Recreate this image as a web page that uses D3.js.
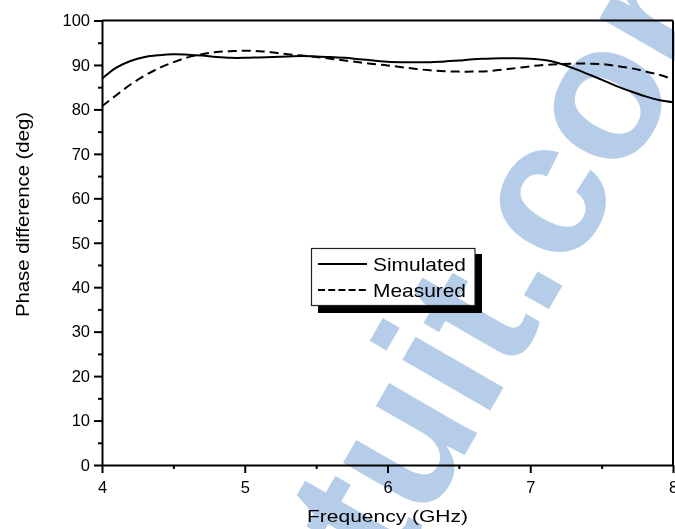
<!DOCTYPE html>
<html>
<head>
<meta charset="utf-8">
<script src="https://cdn.jsdelivr.net/npm/d3@7"></script>
<style>
  html, body { margin: 0; padding: 0; background: #fff; }
  svg { display: block; }
  text { font-family: "Liberation Sans", Arial, Helvetica, sans-serif; fill: #000; }
</style>
</head>
<body>
<svg id="chart" width="675" height="529"></svg>
<script>
// Phase difference between the two output ports versus frequency
const frequency = [4.0, 4.1, 4.2, 4.3, 4.4, 4.5, 4.6, 4.7, 4.8, 4.9,
                   5.0, 5.1, 5.2, 5.3, 5.4, 5.5, 5.6, 5.7, 5.8, 5.9,
                   6.0, 6.1, 6.2, 6.3, 6.4, 6.5, 6.6, 6.7, 6.8, 6.9,
                   7.0, 7.1, 7.2, 7.3, 7.4, 7.5, 7.6, 7.7, 7.8, 7.9, 8.0];
const simulated = [86.9, 89.4, 90.9, 91.8, 92.2, 92.4, 92.3, 92.1, 91.8, 91.6,
                   91.6, 91.7, 91.8, 91.9, 92.0, 91.9, 91.8, 91.6, 91.3, 91.0,
                   90.7, 90.6, 90.6, 90.6, 90.8, 91.0, 91.3, 91.4, 91.5, 91.5,
                   91.4, 91.1, 90.4, 89.3, 88.0, 86.7, 85.3, 84.1, 83.0, 82.1, 81.6];
const measured  = [80.7, 83.2, 85.6, 87.6, 89.3, 90.6, 91.7, 92.4, 92.9, 93.1,
                   93.2, 93.1, 92.8, 92.4, 92.1, 91.8, 91.4, 91.0, 90.6, 90.2,
                   89.9, 89.5, 89.1, 88.8, 88.6, 88.5, 88.5, 88.6, 88.9, 89.3,
                   89.7, 90.0, 90.2, 90.3, 90.3, 90.2, 89.8, 89.3, 88.6, 87.8, 86.8];

const seriesNames = ["Simulated", "Measured"];
const xTicks = [4, 5, 6, 7, 8];
const xMinorTicks = [4.5, 5.5, 6.5, 7.5];
const yTicks = [0, 10, 20, 30, 40, 50, 60, 70, 80, 90, 100];
const yMinorTicks = [5, 15, 25, 35, 45, 55, 65, 75, 85, 95];
const xTitle = "Frequency (GHz)";
const yTitle = "Phase difference (deg)";
const watermark = "tuit.com";

const svg = d3.select("#chart");
const plotLeft = 102, plotRight = 673, plotTop = 20.5, plotBottom = 465;

const x = d3.scaleLinear().domain([4, 8]).range([plotLeft, plotRight]);
const y = d3.scaleLinear().domain([0, 100]).range([plotBottom, plotTop]);

const series = [
  { name: seriesNames[0], values: simulated, dash: null },
  { name: seriesNames[1], values: measured, dash: "9,5" }
];

// data curves
const line = d3.line()
  .x((d, i) => x(frequency[i]))
  .y(d => y(d))
  .curve(d3.curveCatmullRom.alpha(0.5));

svg.append("g").selectAll("path")
  .data(series)
  .join("path")
  .attr("d", d => line(d.values))
  .attr("fill", "none")
  .attr("stroke", "#000")
  .attr("stroke-width", 2)
  .attr("stroke-dasharray", d => d.dash);

// frame: top and right edges
svg.append("line").attr("x1", plotLeft).attr("x2", plotRight).attr("y1", plotTop).attr("y2", plotTop)
  .attr("stroke", "#000").attr("stroke-width", 2);
svg.append("line").attr("x1", plotRight).attr("x2", plotRight).attr("y1", plotTop).attr("y2", plotBottom)
  .attr("stroke", "#000").attr("stroke-width", 2);

// bottom axis
svg.append("g").attr("transform", `translate(0,${plotBottom})`)
  .call(d3.axisBottom(x).tickValues(xTicks).tickFormat(d3.format("d"))
        .tickSize(8).tickPadding(8).tickSizeOuter(0));
svg.append("g").attr("transform", `translate(0,${plotBottom})`)
  .call(d3.axisBottom(x).tickValues(xMinorTicks).tickFormat("").tickSize(4).tickSizeOuter(0))
  .call(g => g.select(".domain").remove());

// left axis
svg.append("g").attr("transform", `translate(${plotLeft},0)`)
  .call(d3.axisLeft(y).tickValues(yTicks).tickFormat(d3.format("d"))
        .tickSize(8).tickPadding(4).tickSizeOuter(0));
svg.append("g").attr("transform", `translate(${plotLeft},0)`)
  .call(d3.axisLeft(y).tickValues(yMinorTicks).tickFormat("").tickSize(4).tickSizeOuter(0))
  .call(g => g.select(".domain").remove());

svg.selectAll(".domain").attr("stroke", "#000").attr("stroke-width", 2);
svg.selectAll(".tick line").attr("stroke", "#000").attr("stroke-width", 2);
svg.selectAll(".tick text")
  .attr("font-family", "'Liberation Sans', Arial, sans-serif")
  .attr("font-size", 16.5).attr("fill", "#000");

// axis titles
svg.append("text")
  .attr("x", (plotLeft + plotRight) / 2).attr("y", 522)
  .attr("text-anchor", "middle")
  .attr("font-size", 16.5)
  .attr("textLength", 161).attr("lengthAdjust", "spacingAndGlyphs")
  .text(xTitle);

svg.append("text")
  .attr("transform", "translate(29,214.5) rotate(-90)")
  .attr("text-anchor", "middle")
  .attr("font-size", 19)
  .attr("textLength", 205).attr("lengthAdjust", "spacingAndGlyphs")
  .text(yTitle);

// legend with drop shadow
const legend = svg.append("g");
legend.append("rect").attr("x", 318).attr("y", 254).attr("width", 164).attr("height", 59).attr("fill", "#000");
legend.append("rect").attr("x", 311.5).attr("y", 248.5).attr("width", 163.5).attr("height", 57)
  .attr("fill", "#fff").attr("stroke", "#222").attr("stroke-width", 1.2);

const legendRows = legend.selectAll("g.row")
  .data(series)
  .join("g")
  .attr("class", "row")
  .attr("transform", (d, i) => `translate(0,${264 + i * 26})`);
legendRows.append("line")
  .attr("x1", 318).attr("x2", 367).attr("y1", 0).attr("y2", 0)
  .attr("stroke", "#000").attr("stroke-width", 2)
  .attr("stroke-dasharray", d => d.dash ? "7,3.2" : null);
legendRows.append("text")
  .attr("x", 373).attr("y", 6.5)
  .attr("font-size", 19)
  .attr("textLength", 93).attr("lengthAdjust", "spacingAndGlyphs")
  .text(d => d.name);

// site stamp across the plot
svg.append("text")
  .attr("transform", "translate(393,579) rotate(-60)")
  .attr("font-size", 192)
  .attr("font-weight", "bold")
  .style("fill", "#b6cde9")
  .style("mix-blend-mode", "multiply")
  .text(watermark);
</script>
</body>
</html>
